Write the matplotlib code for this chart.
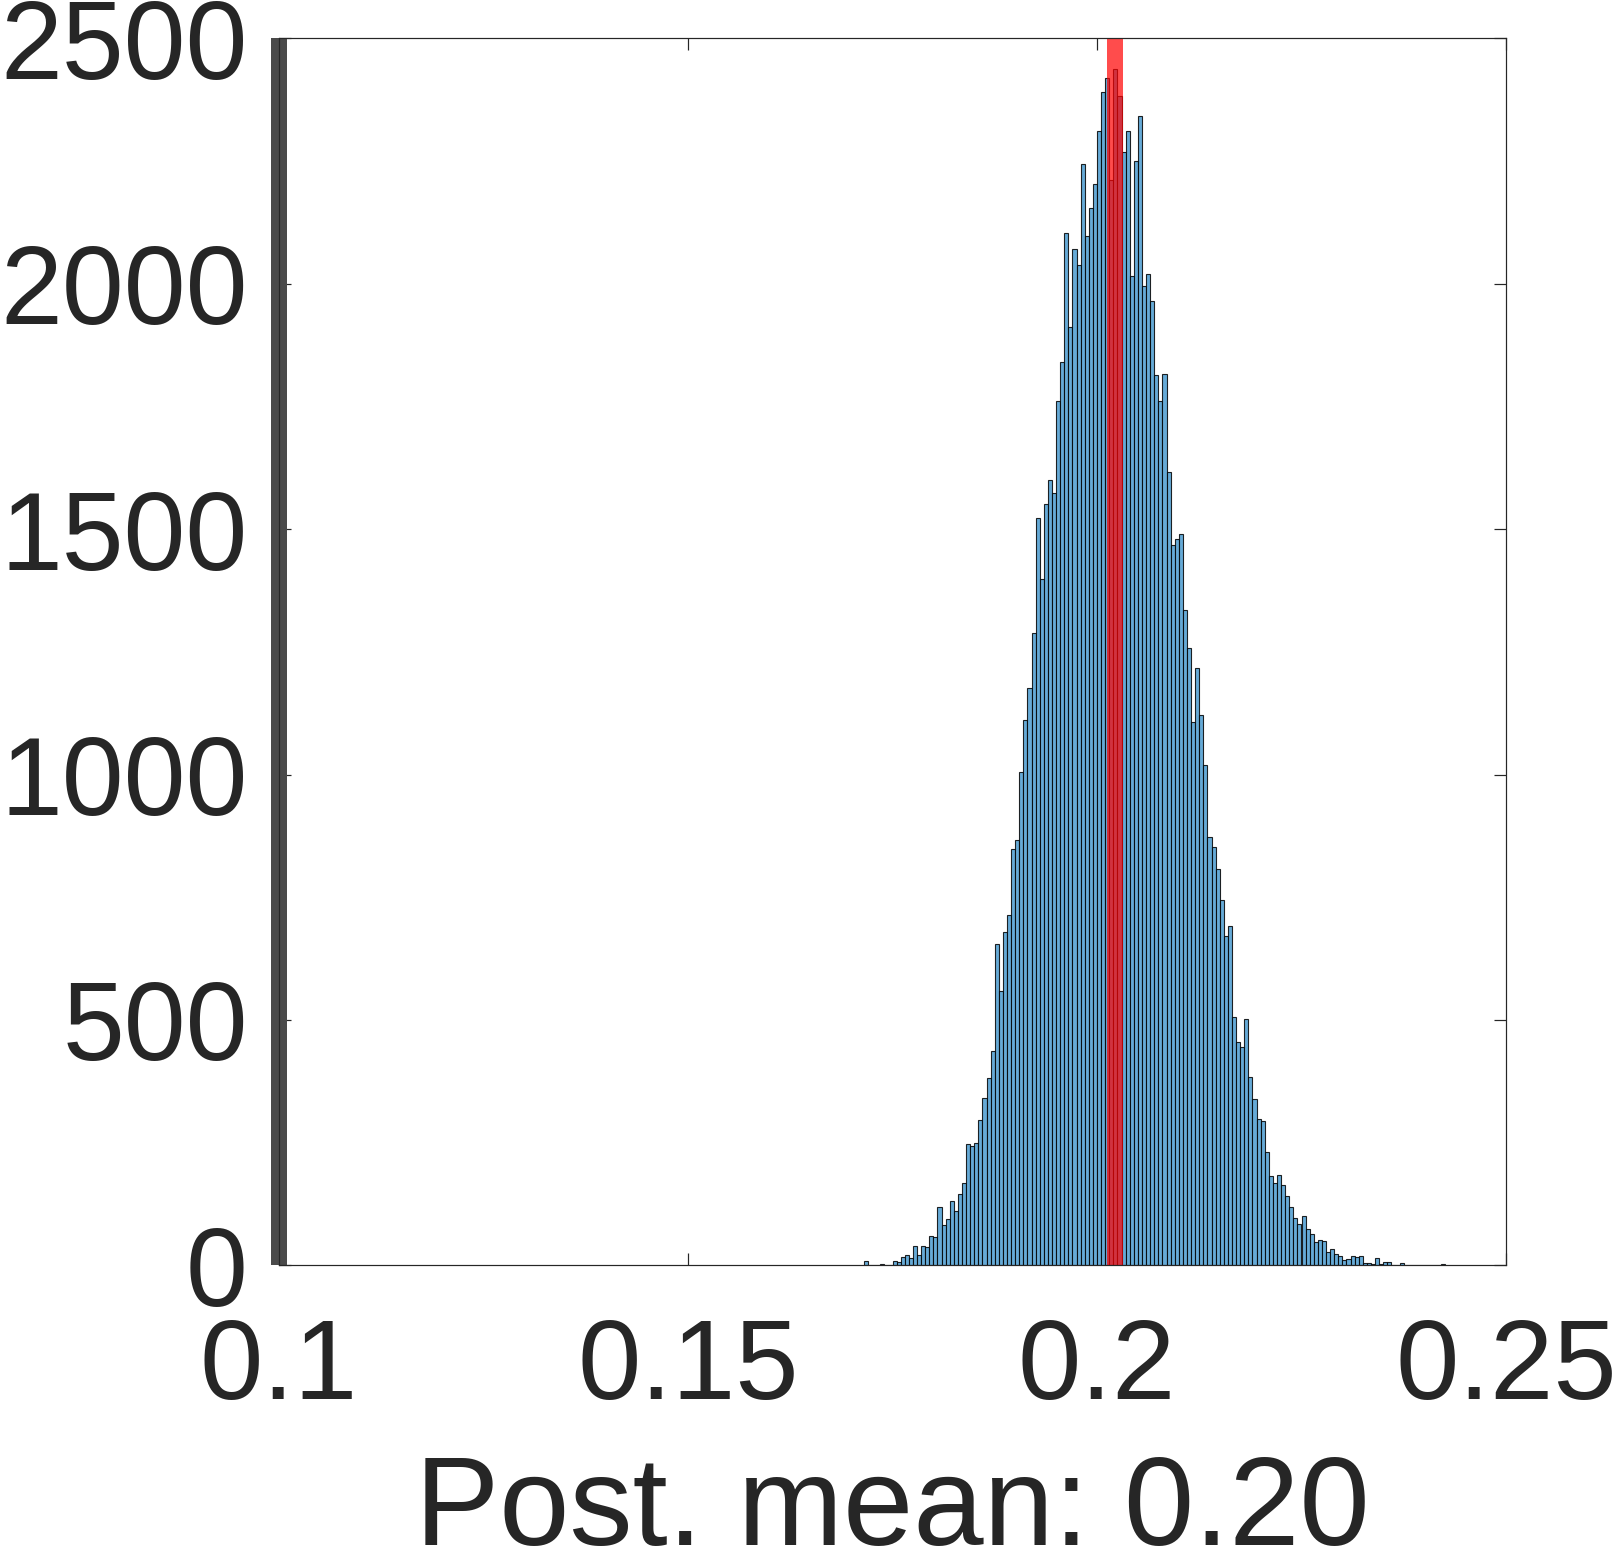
import numpy as np
import matplotlib
matplotlib.use("Agg")
import matplotlib.pyplot as plt

# ---- data ----
bin_start = 0.1715
bin_width = 0.0005
counts = [
    8, 0, 0, 0, 2, 0, 1, 8, 6, 16,            # 0.1715 - 0.1760
    22, 14, 39, 21, 39, 37, 60, 57, 119, 82,  # 0.1765 - 0.1810
    94, 132, 110, 145, 168, 247, 244, 250, 296, 341,  # 0.1815 - 0.1860
    381, 437, 655, 558, 680, 714, 848, 866, 1006, 1112,  # 0.1865 - 0.1910
    1177, 1288, 1522, 1399, 1551, 1600, 1574, 1762, 1841, 2104,  # 0.1915 - 0.1960
    1912, 2070, 2039, 2244, 2097, 2154, 2203, 2311, 2391, 2420,  # 0.1965 - 0.2010
    2212, 2437, 2383, 2268, 2311, 2015, 2250, 2342, 1995, 2020,  # 0.2015 - 0.2060
    1964, 1814, 1761, 1817, 1617, 1467, 1479, 1491, 1336, 1258,  # 0.2065 - 0.2110
    1107, 1218, 1122, 1020, 873, 853, 808, 745, 670, 691,        # 0.2115 - 0.2160
    505, 454, 445, 502, 383, 338, 298, 293, 231, 182,            # 0.2165 - 0.2210
    168, 185, 163, 141, 119, 96, 84, 100, 73, 64,                # 0.2215 - 0.2260
    48, 52, 49, 27, 34, 24, 18, 10, 13, 19,                      # 0.2265 - 0.2310
    17, 19, 5, 5, 2, 15, 2, 6, 7, 0,                             # 0.2315 - 0.2360
    0, 4, 0, 0, 0, 0, 0, 0, 0, 0,                                # 0.2365 - 0.2410
    0, 2,                                                        # 0.2415 - 0.2420
]
reference_value = 0.1        # grey marker
posterior_mark = 0.2022      # red marker
xlabel_text = "Post. mean: 0.20"
xticks = [0.1, 0.15, 0.2, 0.25]
xticklabels = ["0.1", "0.15", "0.2", "0.25"]
yticks = [0, 500, 1000, 1500, 2000, 2500]
yticklabels = ["0", "500", "1000", "1500", "2000", "2500"]

# ---- figure ----
W, H, DPI = 1612, 1552, 100
fig = plt.figure(figsize=(W / DPI, H / DPI), dpi=DPI)
plt.rcParams['font.family'] = ['Liberation Sans', 'DejaVu Sans']
txt = '#262626'

ax = fig.add_axes([279 / W, 1 - 1265.3 / H, (1506 - 279) / W, (1265.3 - 38.3) / H])

edges = bin_start + bin_width * np.arange(len(counts))
face = (0.4, 0.668, 0.845)
ax.bar(edges, counts, width=bin_width, align='edge', color=face,
       edgecolor=(0, 0, 0, 0.85), linewidth=0.8, zorder=2)

px = 72 / DPI
ax.axvline(posterior_mark, color=(1, 0, 0), alpha=0.7, linewidth=16 * px, zorder=3,
           solid_capstyle='butt')
ax.axvline(reference_value, color='#4a4a4a', linewidth=16 * px, zorder=4, clip_on=False,
           solid_capstyle='butt')

ax.set_xlim(0.1, 0.25)
ax.set_ylim(0, 2500)
ax.set_xticks(xticks)
ax.set_xticklabels(xticklabels)
ax.set_yticks(yticks)
ax.set_yticklabels(yticklabels)

for s in ax.spines.values():
    s.set_color(txt)
    s.set_linewidth(1.2 * px)
    s.set_zorder(5)

ax.tick_params(direction='in', length=12 * px, width=1.2 * px, top=True, right=True,
               colors=txt, labelsize=80)
ax.tick_params(axis='x', pad=52 * px, labelsize=82)
ax.tick_params(axis='y', pad=31 * px)
for lab in ax.get_xticklabels() + ax.get_yticklabels():
    lab.set_color(txt)

ax.set_xlabel(xlabel_text, fontsize=91, color=txt, labelpad=30 * px)

fig.savefig("out.png", dpi=DPI)
